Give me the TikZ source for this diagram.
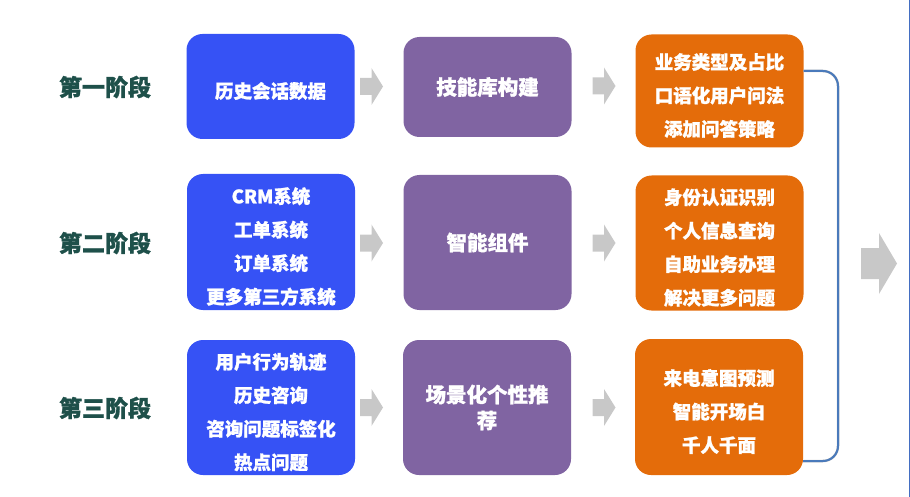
\documentclass[tikz,border=0pt]{standalone}
\usepackage{fontspec}
\setmainfont{Noto Sans CJK SC}[BoldFeatures={FakeBold=1.2}]
\usepackage{tikz}
\usetikzlibrary{positioning,calc}
\definecolor{stageteal}{RGB}{30,80,74}
\definecolor{srcblue}{RGB}{54,82,245}
\definecolor{midpurple}{RGB}{128,100,162}
\definecolor{outorange}{RGB}{228,108,10}
\definecolor{arrowgray}{RGB}{200,200,200}
\definecolor{linkblue}{RGB}{74,122,187}
% block arrow: centre, half length, half body, half head
\newcommand{\blockarrow}[4]{%
  \fill[arrowgray, shift={#1}] (-#2,-#3) -- (0,-#3) -- (0,-#4) -- (#2,0)
    -- (0,#4) -- (0,#3) -- (-#2,#3) -- cycle;}

\begin{document}
\begin{tikzpicture}[
    x=1pt, y=-1pt,
    stage/.style={font=\fontsize{23}{28}\selectfont\bfseries, text=stageteal},
    card/.style={rounded corners=16pt, minimum width=168pt, inner sep=0pt,
                 text=white, align=center,
                 font=\fontsize{20.5}{26}\selectfont\bfseries},
    cardtext/.style={text=white, align=center, inner sep=0pt, yshift=-4.5pt,
                     font=\fontsize{18.5}{33.5}\selectfont\bfseries},
    srccard/.style={card, fill=srcblue},
    midcard/.style={card, fill=midpurple},
    outcard/.style={card, fill=outorange},
    link/.style={linkblue, line width=2pt, rounded corners=15pt}
]
\useasboundingbox (0,0) rectangle (910,497);

\node[stage] (s1) at (105,87) {第一阶段};
\node[stage] (s2) at (105,243) {第二阶段};
\node[stage] (s3) at (105,408) {第三阶段};

\node[srccard, minimum height=105pt,
      label={[cardtext]center:历史会话数据}] (b1) at (270.5,86.5) {};
\node[midcard, minimum height=100pt] (p1) at (487.5,87) {技能库构建};
\node[outcard, minimum height=113pt,
      label={[cardtext]center:{业务类型及占比\\口语化用户问法\\添加问答策略}}]
    (o1) at (719.5,91) {};

\node[srccard, minimum height=136pt,
      label={[cardtext]center:{CRM系统\\工单系统\\订单系统\\更多第三方系统}}]
    (b2) at (271,242) {};
\node[midcard, minimum height=135pt] (p2) at (487.5,242.5) {智能组件};
\node[outcard, minimum height=135pt,
      label={[cardtext]center:{身份认证识别\\个人信息查询\\自助业务办理\\解决更多问题}}]
    (o2) at (719.5,243) {};

\node[srccard, minimum height=135pt,
      label={[cardtext]center:{用户行为轨迹\\历史咨询\\咨询问题标签化\\热点问题}}]
    (b3) at (271,407.5) {};
\node[midcard, minimum height=135pt] (p3) at (487,407.5) {场景化个性推\\荐};
\node[outcard, minimum height=136pt,
      label={[cardtext]center:{来电意图预测\\智能开场白\\千人千面}}]
    (o3) at (719,407) {};

\blockarrow{(371.5,86.5)}{11.5}{8.5}{18.5}
\blockarrow{(604,86)}{11.5}{8.5}{18.5}
\blockarrow{(371.5,243)}{11.5}{8.5}{18.5}
\blockarrow{(604,243)}{11.5}{8.5}{18.5}
\blockarrow{(371.5,407.5)}{11.5}{8.5}{18.5}
\blockarrow{(604,407.5)}{11.5}{8.5}{18.5}
\blockarrow{(879,263.5)}{18}{15.5}{30.5}

\coordinate (bend) at (838,0);
\draw[link, black!25, line width=2.5pt, shift={(1.5,1.5)}]
    ([yshift=20pt]o1.east) -- ([yshift=20pt]o1.east -| bend)
    -- ([yshift=-54pt]o3.east -| bend) -- ([yshift=-54pt]o3.east);
\draw[link] ([yshift=20pt]o1.east) -- ([yshift=20pt]o1.east -| bend)
    -- ([yshift=-54pt]o3.east -| bend) -- ([yshift=-54pt]o3.east);

\draw[linkblue!90!blue, line width=1pt] (909,0) -- (909,497);
\end{tikzpicture}
\end{document}
